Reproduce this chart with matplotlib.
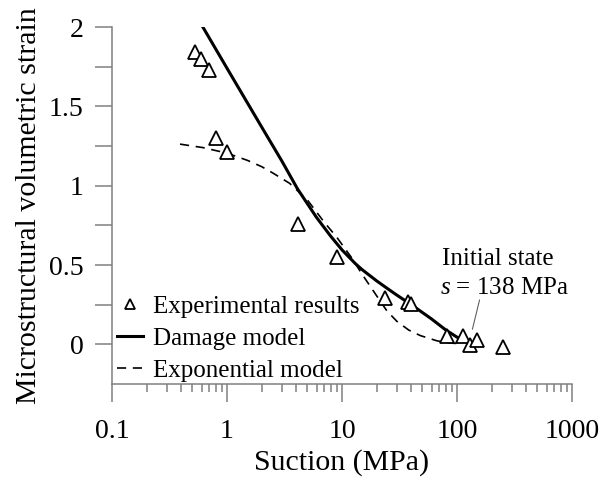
import matplotlib
matplotlib.use("Agg")
import matplotlib.pyplot as plt
from matplotlib.ticker import FixedLocator, NullFormatter, LogLocator

plt.rcParams['font.family'] = ['Liberation Serif', 'DejaVu Serif']
plt.rcParams['mathtext.fontset'] = 'custom'
plt.rcParams['mathtext.rm'] = 'Liberation Serif'
plt.rcParams['mathtext.it'] = 'Liberation Serif:italic'

# Experimental results
exp_suction = [0.527, 0.594, 0.697, 0.802, 1.00, 4.14, 9.05, 23.6, 37.5, 39.5, 82, 113, 130, 149, 251]
exp_strain = [1.84, 1.80, 1.73, 1.30, 1.21, 0.76, 0.55, 0.29, 0.265, 0.255, 0.05, 0.05, -0.005, 0.03, -0.02]

# Damage model
dmg_suction = [0.594, 1.0, 2.0, 3.0, 4.1, 6.0, 8.0, 10, 13, 15, 20, 25, 30, 40, 60, 80, 100, 120, 138]
dmg_strain = [2.02, 1.74, 1.37, 1.155, 0.98, 0.80, 0.68, 0.595, 0.51, 0.47, 0.40, 0.35, 0.31, 0.25,
              0.16, 0.09, 0.045, 0.017, 0.0]

# Exponential model
expm_suction = [0.39, 0.618, 1.0, 1.5, 2.0, 2.5, 3.5, 5.0, 7.0, 9.0, 12, 15, 19.4, 24.6, 30, 38, 48, 67, 87, 102]
expm_strain = [1.262, 1.24, 1.205, 1.16, 1.12, 1.08, 1.015, 0.91, 0.77, 0.675, 0.55, 0.44, 0.32, 0.21,
               0.145, 0.09, 0.055, 0.022, 0.008, 0.005]

x_ticks = [0.1, 1, 10, 100, 1000]
x_ticklabels = ['0.1', '1', '10', '100', '1000']
y_ticks = [0, 0.5, 1, 1.5, 2]
y_ticklabels = ['0', '0.5', '1', '1.5', '2']

fig = plt.figure(figsize=(6, 4.83), dpi=100)
ax = fig.add_axes([0.1867, 0.205, 0.7667, 0.739])

ax.plot(exp_suction, exp_strain, linestyle='none', marker='^', ms=9.5, mfc='white',
        mec='black', mew=1.3, label='Experimental results', zorder=3)
ax.plot(dmg_suction, dmg_strain, color='black', lw=2.2, label='Damage model', zorder=2)
ax.plot(expm_suction, expm_strain, color='black', lw=1.2, dashes=(5.5, 4),
        label='Exponential model', zorder=2)

ax.set_xscale('log')
ax.set_xlim(0.1, 1000)
ax.set_ylim(-0.25, 2)

ax.set_xticks(x_ticks)
ax.set_xticklabels(x_ticklabels)
ax.xaxis.set_minor_locator(LogLocator(base=10, subs=range(2, 10), numticks=20))
ax.xaxis.set_minor_formatter(NullFormatter())
ax.set_yticks(y_ticks)
ax.set_yticklabels(y_ticklabels)
ax.yaxis.set_minor_locator(FixedLocator([0.25, 0.75, 1.25, 1.75]))

for s in ['top', 'right']:
    ax.spines[s].set_visible(False)
for s in ['left', 'bottom']:
    ax.spines[s].set_color('#808080')
    ax.spines[s].set_linewidth(1.1)

ax.tick_params(axis='x', which='major', direction='out', length=13, width=1.1,
               color='#808080', labelsize=20, pad=12)
ax.tick_params(axis='x', which='minor', direction='out', length=6, width=1.1,
               color='#808080')
ax.tick_params(axis='y', which='both', direction='out', length=12.5, width=1.1,
               color='#808080', labelsize=20, pad=8)

ax.set_xlabel('Suction (MPa)', fontsize=21.5, labelpad=3.5)
ax.set_ylabel('Microstructural volumetric strain', fontsize=21.5, labelpad=5)

ax.text(74, 0.498, 'Initial state', fontsize=18, ha='left', va='baseline')
ax.text(71, 0.32, '$s$ = 138 MPa', fontsize=18, ha='left', va='baseline')
ax.annotate('', xy=(136, 0.095), xytext=(157, 0.28),
            arrowprops=dict(arrowstyle='-', color='#606060', lw=0.8,
                            shrinkA=0, shrinkB=0))

leg = ax.legend(loc='lower left', bbox_to_anchor=(0.011, 0.005), frameon=False,
                fontsize=18, handlelength=1.05, handletextpad=0.4,
                labelspacing=0.38, borderpad=0.0, borderaxespad=0.0,
                markerscale=0.7)

fig.savefig('out.png', dpi=100)
